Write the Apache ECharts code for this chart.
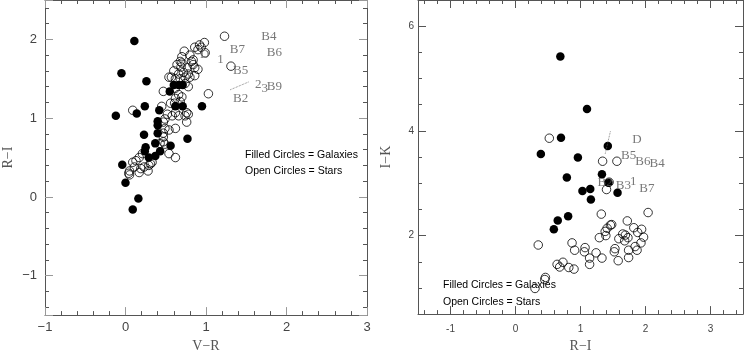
<!DOCTYPE html>
<html>
<head>
<meta charset="utf-8">
<script src="https://cdn.jsdelivr.net/npm/echarts@6/dist/echarts.min.js"></script>
<style>
  html, body { margin: 0; padding: 0; background: #fff; }
  #chart { width: 746px; height: 358px; }
</style>
</head>
<body>
<div id="chart"></div>
<script>
// left panel: V-R vs R-I
const leftGalaxies = [
  [0.11, 1.98], [-0.05, 1.57], [0.26, 1.47], [-0.12, 1.03], [0.14, 1.06], [0.24, 1.15],
  [0.42, 1.10], [0.95, 1.15], [0.77, 0.74], [-0.04, 0.41], [0.00, 0.18], [0.16, -0.02],
  [0.09, -0.16], [0.55, 1.34], [0.60, 1.42], [0.66, 1.42], [0.71, 1.42], [0.62, 1.15],
  [0.71, 1.15], [0.40, 0.96], [0.40, 0.91], [0.40, 0.81], [0.23, 0.79], [0.37, 0.68],
  [0.25, 0.63], [0.24, 0.58], [0.29, 0.50], [0.37, 0.52], [0.43, 0.58], [0.56, 0.65]
];
const leftStars = [
  [1.23, 2.04], [0.98, 1.96], [0.92, 1.93], [0.86, 1.90], [0.90, 1.87], [0.99, 1.83],
  [0.73, 1.85], [0.68, 1.72], [0.69, 1.65], [0.77, 1.64], [0.82, 1.72], [0.86, 1.64],
  [0.90, 1.62], [0.84, 1.74], [0.78, 1.56], [0.72, 1.58], [0.66, 1.56], [0.57, 1.52],
  [0.62, 1.50], [0.68, 1.50], [0.74, 1.52], [0.80, 1.52], [0.86, 1.54], [1.31, 1.66],
  [0.47, 1.34], [0.62, 1.38], [0.74, 1.44], [0.78, 1.40], [1.03, 1.31], [0.66, 1.30],
  [0.70, 1.27], [0.68, 1.21], [0.62, 1.25], [0.56, 1.19], [0.45, 1.15], [0.62, 1.07],
  [0.58, 1.03], [0.49, 0.99], [0.74, 1.03], [0.76, 0.95], [0.76, 1.07], [0.66, 1.03],
  [0.47, 0.95], [0.49, 0.87], [0.54, 0.85], [0.62, 0.87], [0.47, 0.81], [0.47, 0.76],
  [0.47, 0.70], [0.43, 0.68], [0.49, 0.67], [0.54, 0.55], [0.62, 0.50], [0.09, 1.10],
  [0.21, 0.55], [0.17, 0.50], [0.13, 0.46], [0.09, 0.44], [0.11, 0.38], [0.05, 0.33],
  [0.05, 0.28], [0.19, 0.36], [0.23, 0.38], [0.29, 0.40], [0.33, 0.44], [0.28, 0.33],
  [0.17, 0.31], [0.54, 1.52], [0.60, 1.60], [0.64, 1.68], [0.70, 1.78], [0.80, 1.80],
  [0.94, 1.90], [0.61, 1.19], [0.52, 1.05], [0.78, 1.05], [0.31, 0.42], [0.04, 0.30],
  [0.84, 1.68], [0.70, 1.70]
];
const leftTags = [
  ['B4', 1.78, 2.04], ['B7', 1.39, 1.875], ['B6', 1.85, 1.83], ['D', 0.985, 1.81],
  ['1', 1.18, 1.74], ['B5', 1.43, 1.61], ['2', 1.65, 1.43], ['3', 1.73, 1.38],
  ['B9', 1.85, 1.40], ['B2', 1.43, 1.25]
];
const leftTrail = [[1.30, 1.36], [1.53, 1.46]];

// right panel: R-I vs I-K
const rightGalaxies = [
  [0.69, 5.42], [1.10, 4.42], [0.70, 3.87], [0.39, 3.56], [0.96, 3.49], [1.42, 3.71],
  [0.79, 3.11], [1.33, 3.17], [1.43, 3.01], [1.03, 2.85], [1.15, 2.89], [1.16, 2.69],
  [1.57, 2.82], [0.81, 2.37], [0.65, 2.29], [0.59, 2.12]
];
const rightStars = [
  [0.52, 3.86], [1.34, 3.42], [1.56, 3.42], [1.40, 2.88], [1.44, 3.02], [1.32, 2.41],
  [2.04, 2.44], [0.35, 1.82], [1.46, 2.20], [1.41, 2.14], [1.38, 2.08], [1.39, 2.00],
  [1.29, 1.96], [1.73, 1.96], [1.65, 2.03], [1.68, 1.90], [1.82, 2.15], [1.88, 2.06],
  [1.94, 2.12], [1.97, 1.97], [1.93, 1.86], [1.87, 1.72], [1.74, 1.72], [1.74, 1.58],
  [1.58, 1.52], [1.53, 1.75], [1.52, 1.69], [1.33, 1.57], [1.24, 1.67], [1.14, 1.57],
  [1.14, 1.45], [1.07, 1.77], [1.06, 1.69], [0.87, 1.86], [0.91, 1.72], [0.64, 1.45],
  [0.68, 1.40], [0.73, 1.49], [0.82, 1.39], [0.90, 1.36], [0.46, 1.20], [0.45, 1.16],
  [0.30, 0.99], [1.72, 2.28], [1.48, 2.21], [1.84, 1.79], [1.59, 1.94], [1.69, 2.01]
];
const rightTags = [
  ['D', 1.87, 3.83], ['B5', 1.74, 3.52], ['B6', 1.96, 3.41], ['B4', 2.18, 3.37],
  ['B2', 1.38, 3.02], ['B3', 1.66, 2.96], ['1', 1.81, 3.04], ['B7', 2.02, 2.89]
];
const rightTrail = [[1.46, 3.99], [1.38, 3.56]];

const legendLines = ['Filled Circles = Galaxies', 'Open Circles = Stars'];

const serif = 'Liberation Serif, DejaVu Serif, serif';
const sans = 'Liberation Sans, Arial, sans-serif';
const narrow = 'Liberation Sans Narrow, Liberation Sans, Arial, sans-serif';

function frameAxis(gridIndex, position, min, max, split, minor, labels, tickColor) {
  return {
    type: 'value', gridIndex, position, min, max, splitNumber: split,
    axisLine: { show: true, onZero: false, lineStyle: { color: '#555', width: 1 } },
    axisTick: { show: true, inside: true, length: 8, lineStyle: { color: tickColor || '#999' } },
    minorTick: { show: true, splitNumber: minor, length: 4, lineStyle: { color: '#555' } },
    splitLine: { show: false },
    axisLabel: labels || { show: false }
  };
}

function intLabel(fontSize, margin, longMinus, step) {
  return {
    show: true, color: '#444', fontFamily: sans, fontSize, margin,
    formatter: v => {
      if (Math.abs(v - Math.round(v)) > 1e-6) return '';
      if (step && Math.round(v) % step !== 0) return '';
      const s = String(Math.round(v));
      return longMinus ? s.replace('-', '\u2212') : s;
    }
  };
}

function tagSeries(tags, xi, yi) {
  return {
    type: 'scatter', xAxisIndex: xi, yAxisIndex: yi, symbolSize: 0, silent: true, z: 5,
    data: tags.map(t => ({ name: t[0], value: [t[1], t[2]] })),
    label: {
      show: true, position: 'inside', formatter: p => p.name,
      fontFamily: serif, color: '#555', fontSize: 13
    },
    labelLayout: { hideOverlap: false }
  };
}

const chart = echarts.init(document.getElementById('chart'), null, { renderer: 'canvas' });

const option = {
  animation: false,
  backgroundColor: '#fff',
  grid: [
    { left: 41, top: 0, width: 326, height: 326 },
    { left: 418, top: 0, width: 327, height: 326 }
  ],
  xAxis: [
    Object.assign(frameAxis(0, 'bottom', -1, 3, 4, 5, intLabel(13, 6, true)), {
      name: 'V\u2212R', nameLocation: 'middle', nameGap: 16,
      nameTextStyle: { fontFamily: serif, fontSize: 14, color: '#555' }
    }),
    frameAxis(0, 'top', -1, 3, 4, 5),
    Object.assign(frameAxis(1, 'bottom', -1.5, 3.5, 5, 5, intLabel(10, 10, false), '#555'), {
      name: 'R\u2212I', nameLocation: 'middle', nameGap: 17,
      nameTextStyle: { fontFamily: serif, fontSize: 14, color: '#555' }
    }),
    frameAxis(1, 'top', -1.5, 3.5, 5, 5, null, '#555')
  ],
  yAxis: [
    Object.assign(frameAxis(0, 'left', -1.5, 2.5, 4, 5, intLabel(13, 8, true)), {
      name: 'R\u2212I', nameLocation: 'middle', nameGap: 30,
      nameTextStyle: { fontFamily: serif, fontSize: 14, color: '#555' }
    }),
    frameAxis(0, 'right', -1.5, 2.5, 4, 5),
    Object.assign(frameAxis(1, 'left', 0.5, 6.5, 3, 4, intLabel(10, 4, false, 2), '#555'), {
      name: 'I\u2212K', nameLocation: 'middle', nameGap: 25,
      nameTextStyle: { fontFamily: serif, fontSize: 14, color: '#555' }
    }),
    frameAxis(1, 'right', 0.5, 6.5, 3, 4, null, '#555')
  ],
  graphic: [
    { type: 'text', left: 245, top: 150, style: { text: legendLines[0], fontFamily: narrow, fontSize: 10.5, fill: '#000' } },
    { type: 'text', left: 245, top: 166, style: { text: legendLines[1], fontFamily: narrow, fontSize: 10.5, fill: '#000' } },
    { type: 'text', left: 443, top: 280, style: { text: legendLines[0], fontFamily: narrow, fontSize: 10.5, fill: '#000' } },
    { type: 'text', left: 443, top: 297, style: { text: legendLines[1], fontFamily: narrow, fontSize: 10.5, fill: '#000' } }
  ],
  series: [
    {
      type: 'scatter', xAxisIndex: 0, yAxisIndex: 0, data: leftStars, symbolSize: 8.5,
      itemStyle: { color: 'transparent', borderColor: '#000', borderWidth: 0.8, opacity: 1 }
    },
    {
      type: 'scatter', xAxisIndex: 0, yAxisIndex: 0, data: leftGalaxies, symbolSize: 8.5,
      itemStyle: { color: '#000', opacity: 1 }
    },
    {
      type: 'line', xAxisIndex: 0, yAxisIndex: 0, data: leftTrail, symbol: 'none',
      lineStyle: { color: '#666', width: 0.8, type: 'dotted' }
    },
    tagSeries(leftTags, 0, 0),
    {
      type: 'scatter', xAxisIndex: 2, yAxisIndex: 2, data: rightStars, symbolSize: 8.5,
      itemStyle: { color: 'transparent', borderColor: '#000', borderWidth: 0.8, opacity: 1 }
    },
    {
      type: 'scatter', xAxisIndex: 2, yAxisIndex: 2, data: rightGalaxies, symbolSize: 8.5,
      itemStyle: { color: '#000', opacity: 1 }
    },
    {
      type: 'line', xAxisIndex: 2, yAxisIndex: 2, data: rightTrail, symbol: 'none',
      lineStyle: { color: '#666', width: 0.8, type: 'dotted' }
    },
    tagSeries(rightTags, 2, 2)
  ]
};

chart.setOption(option);
</script>
</body>
</html>
